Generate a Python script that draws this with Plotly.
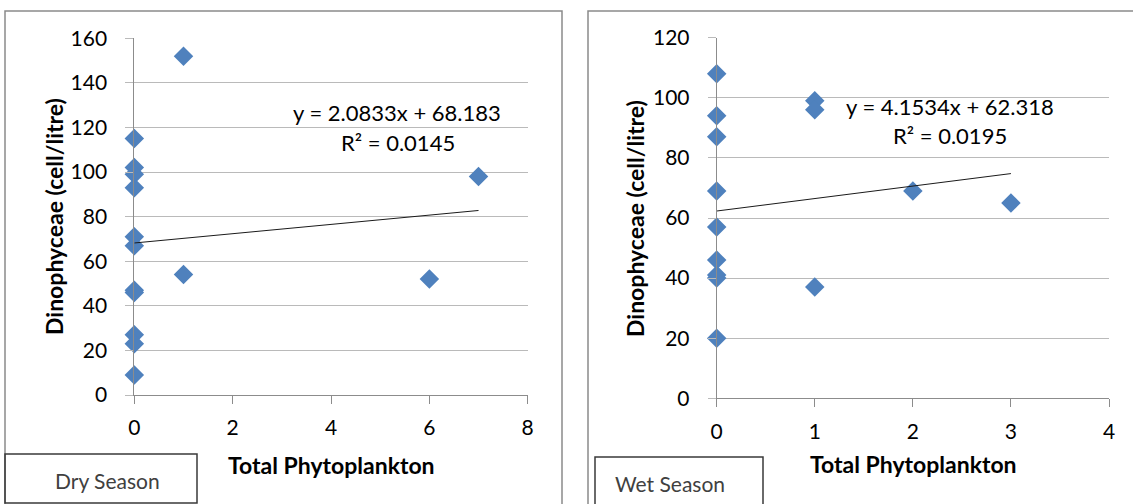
import plotly.graph_objects as go

W, H = 1133, 504

# ---- data ----
dry_x = [0, 0, 0, 0, 0, 0, 0, 0, 0, 0, 0, 1, 1, 6, 7]
dry_y = [115, 102, 99, 93, 71, 67, 47, 46, 27, 23, 9, 152, 54, 52, 98]
dry_slope, dry_intercept, dry_r2 = 2.0833, 68.183, 0.0145

wet_x = [0, 0, 0, 0, 0, 0, 0, 0, 0, 1, 1, 1, 2, 3]
wet_y = [108, 94, 87, 69, 57, 46, 41, 40, 20, 99, 96, 37, 69, 65]
wet_slope, wet_intercept, wet_r2 = 4.1534, 62.318, 0.0195

dry_xticks = [0, 2, 4, 6, 8]
dry_yticks = [0, 20, 40, 60, 80, 100, 120, 140, 160]
wet_xticks = [0, 1, 2, 3, 4]
wet_yticks = [0, 20, 40, 60, 80, 100, 120]

x_title = "Total Phytoplankton"
y_title = "Dinophyceae (cell/litre)"

FONT = "Lato"
MARK = "#4F81BD"
GRID = "#BABABA"
AXIS = "#8C8C8C"


def px(x):
    return x / W


def py(y):
    return 1 - y / H


fig = go.Figure()

for xs, ys, slope, icpt, xa, ya in [
    (dry_x, dry_y, dry_slope, dry_intercept, "x", "y"),
    (wet_x, wet_y, wet_slope, wet_intercept, "x2", "y2"),
]:
    fig.add_trace(go.Scatter(
        x=xs, y=ys, mode="markers", xaxis=xa, yaxis=ya, cliponaxis=False,
        marker=dict(symbol="diamond", size=15, color=MARK, line=dict(width=0)),
        showlegend=False, hoverinfo="x+y"))
    x0, x1 = min(xs), max(xs)
    fig.add_trace(go.Scatter(
        x=[x0, x1], y=[slope * x0 + icpt, slope * x1 + icpt], mode="lines",
        xaxis=xa, yaxis=ya, line=dict(color="#1A1A1A", width=1),
        showlegend=False, hoverinfo="skip"))

tickfont = dict(family=FONT, size=21, color="#000000")


def xaxis(domain, rng, ticks, anchor):
    return dict(domain=domain, range=rng, tickvals=ticks, ticks="outside",
                ticklen=8, tickcolor=AXIS, showline=True, linecolor=AXIS,
                linewidth=1, showgrid=False, zeroline=False, anchor=anchor,
                tickfont=tickfont, ticklabelstandoff=6, fixedrange=True,
                automargin=False)


def yaxis(domain, rng, ticks, anchor):
    return dict(domain=domain, range=rng, tickvals=ticks, ticks="outside",
                ticklen=8, tickcolor=GRID, showline=True, linecolor=AXIS,
                linewidth=1, showgrid=True, gridcolor=GRID, gridwidth=1,
                zeroline=False, anchor=anchor, tickfont=tickfont,
                ticklabelstandoff=14, fixedrange=True, automargin=False)


fig.update_layout(
    width=W, height=H,
    margin=dict(l=0, r=0, t=0, b=0, autoexpand=False),
    paper_bgcolor="white", plot_bgcolor="white",
    xaxis=xaxis([px(134.3), px(527.7)], [0, 8], dry_xticks, "y"),
    yaxis=yaxis([py(395), py(38.3)], [0, 160], dry_yticks, "x"),
    xaxis2=xaxis([px(716.7), px(1109)], [0, 4], wet_xticks, "y2"),
    yaxis2=yaxis([py(398.3), py(37.7)], [0, 120], wet_yticks, "x2"),
)

shapes = [
    dict(type="rect", xref="paper", yref="paper", x0=px(5), x1=px(562),
         y0=py(520), y1=py(11), line=dict(color="#8A8A8A", width=1.5)),
    dict(type="rect", xref="paper", yref="paper", x0=px(588), x1=px(1150),
         y0=py(520), y1=py(11), line=dict(color="#8A8A8A", width=1.5)),
    dict(type="rect", xref="paper", yref="paper", x0=px(5), x1=px(197),
         y0=py(503), y1=py(454), line=dict(color="#3A3A3A", width=1.5)),
    dict(type="rect", xref="paper", yref="paper", x0=px(595), x1=px(763),
         y0=py(510), y1=py(457), line=dict(color="#3A3A3A", width=1.5)),
]
fig.update_layout(shapes=shapes)

ann = []


def text(x, y, s, size=22, bold=False, angle=0, color="#000000"):
    ann.append(dict(xref="paper", yref="paper", x=px(x), y=py(y), text=s,
                    showarrow=False, xanchor="center", yanchor="middle",
                    textangle=angle,
                    font=dict(family=FONT, size=size, color=color,
                              weight="bold" if bold else "normal")))


text(397, 112, f"y = {dry_slope}x + {dry_intercept}")
text(398, 142, f"R² = {dry_r2}")
text(950, 106, f"y = {wet_slope}x + {wet_intercept}")
text(950, 136, f"R² = {wet_r2}")

text(331, 465, x_title, size=23, bold=True)
text(913, 464, x_title, size=23, bold=True)
text(54, 217, y_title, size=23, bold=True, angle=-90)
text(635, 219, y_title, size=23, bold=True, angle=-90)

text(107, 480, "Dry Season", size=21, color="#404040")
text(670, 483, "Wet Season", size=21, color="#404040")

fig.update_layout(annotations=ann)

fig.write_html("out.html")
